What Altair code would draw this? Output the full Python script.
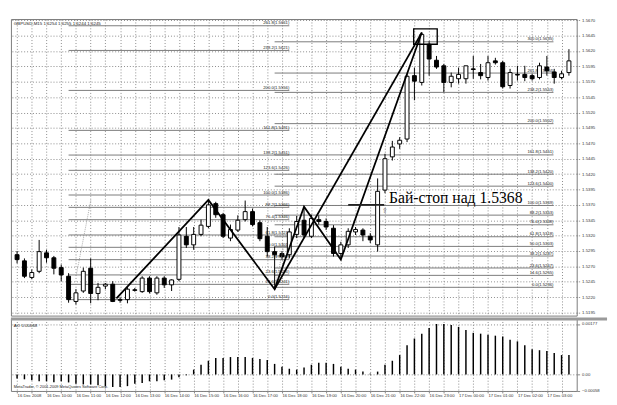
import altair as alt
import pandas as pd

# ---------------- data ----------------
opens = [1.5289, 1.5279, 1.5252, 1.5262, 1.5292, 1.5284, 1.5268, 1.5254, 1.5213, 1.5230,
         1.5267, 1.5226, 1.5238, 1.5241, 1.5216, 1.5216, 1.5232, 1.5229, 1.5251, 1.5227,
         1.5251, 1.5240, 1.5249, 1.5319, 1.5305, 1.5322, 1.5335, 1.5372, 1.5354, 1.5316,
         1.5329, 1.5346, 1.5359, 1.5341, 1.5319, 1.5294, 1.5291, 1.5289, 1.5322, 1.5345,
         1.5319, 1.5346, 1.5343, 1.5332, 1.5291, 1.5305, 1.5326, 1.5329, 1.5319, 1.5305,
         1.5394, 1.5448, 1.5469, 1.5477, 1.5580, 1.5569, 1.5631, 1.5605, 1.5596, 1.5569,
         1.5575, 1.5575, 1.5591, 1.5585, 1.5577, 1.5604, 1.5601, 1.5564, 1.5582, 1.5582,
         1.5580, 1.5577, 1.5594, 1.5586, 1.5577, 1.5585]
highs = [1.5295, 1.5283, 1.5265, 1.5313, 1.5297, 1.5287, 1.5273, 1.5259, 1.5233, 1.5268,
         1.5283, 1.5243, 1.5243, 1.5246, 1.5220, 1.5238, 1.5235, 1.5254, 1.5254, 1.5254,
         1.5254, 1.5249, 1.5334, 1.5334, 1.5334, 1.5346, 1.5378, 1.5375, 1.5357, 1.5338,
         1.5353, 1.5377, 1.5364, 1.5345, 1.5334, 1.5302, 1.5295, 1.5332, 1.5352, 1.5367,
         1.5354, 1.5353, 1.5348, 1.5337, 1.5310, 1.5332, 1.5334, 1.5332, 1.5324, 1.5413,
         1.5453, 1.5474, 1.5480, 1.5583, 1.5593, 1.5650, 1.5636, 1.5612, 1.5599, 1.5585,
         1.5593, 1.5596, 1.5612, 1.5599, 1.5612, 1.5609, 1.5604, 1.5591, 1.5596, 1.5596,
         1.5583, 1.5601, 1.5612, 1.5591, 1.5588, 1.5623]
lows = [1.5275, 1.5251, 1.5249, 1.5259, 1.5276, 1.5257, 1.5246, 1.5211, 1.5208, 1.5227,
        1.5210, 1.5215, 1.5233, 1.5212, 1.5211, 1.5210, 1.5229, 1.5227, 1.5226, 1.5224,
        1.5235, 1.5230, 1.5246, 1.5300, 1.5297, 1.5319, 1.5332, 1.5349, 1.5316, 1.5311,
        1.5326, 1.5343, 1.5335, 1.5311, 1.5286, 1.5233, 1.5281, 1.5283, 1.5316, 1.5316,
        1.5316, 1.5338, 1.5329, 1.5286, 1.5281, 1.5300, 1.5321, 1.5311, 1.5308, 1.5294,
        1.5389, 1.5442, 1.5461, 1.5472, 1.5540, 1.5564, 1.5580, 1.5591, 1.5553, 1.5561,
        1.5567, 1.5567, 1.5575, 1.5574, 1.5572, 1.5598, 1.5559, 1.5559, 1.5572, 1.5571,
        1.5572, 1.5574, 1.5580, 1.5567, 1.5574, 1.5580]
closes = [1.5281, 1.5254, 1.5260, 1.5294, 1.5284, 1.5267, 1.5256, 1.5216, 1.5227, 1.5262,
          1.5226, 1.5236, 1.5241, 1.5213, 1.5215, 1.5233, 1.5231, 1.5251, 1.5229, 1.5251,
          1.5240, 1.5248, 1.5321, 1.5305, 1.5322, 1.5337, 1.5370, 1.5354, 1.5319, 1.5330,
          1.5345, 1.5359, 1.5338, 1.5315, 1.5294, 1.5289, 1.5286, 1.5326, 1.5343, 1.5321,
          1.5348, 1.5343, 1.5334, 1.5291, 1.5305, 1.5327, 1.5330, 1.5321, 1.5313, 1.5392,
          1.5445, 1.5464, 1.5475, 1.5579, 1.5571, 1.5647, 1.5607, 1.5594, 1.5569, 1.5579,
          1.5582, 1.5596, 1.5590, 1.5580, 1.5601, 1.5601, 1.5562, 1.5585, 1.5581, 1.5577,
          1.5575, 1.5596, 1.5588, 1.5577, 1.5583, 1.5604]

ao_values = [-0.00014, -0.00017, -0.00020, -0.00024, -0.00024, -0.00027, -0.00024, -0.00028,
             -0.00033, -0.00035, -0.00035, -0.00038, -0.00041, -0.00044, -0.00044, -0.00041,
             -0.00033, -0.00030, -0.00024, -0.00024, -0.00020, -0.00018, -0.00010, -0.00003,
             0.00017, 0.00034, 0.00048, 0.00058, 0.00058, 0.00061, 0.00061, 0.00061,
             0.00058, 0.00054, 0.00051, 0.00037, 0.00027, 0.00020, 0.00017, 0.00024,
             0.00034, 0.00041, 0.00041, 0.00037, 0.00027, 0.00020, 0.00017, 0.00010,
             0.00003, 0.00010, 0.00034, 0.00048, 0.00068, 0.00102, 0.00126, 0.00143,
             0.00163, 0.00177, 0.00177, 0.00173, 0.00167, 0.00156, 0.00146, 0.00143,
             0.00139, 0.00136, 0.00133, 0.00122, 0.00116, 0.00102, 0.00088, 0.00085,
             0.00082, 0.00075, 0.00068, 0.00068]

time_labels = ["16 Dec 2008", "16 Dec 10:00", "16 Dec 11:00", "16 Dec 12:00", "16 Dec 13:00",
               "16 Dec 14:00", "16 Dec 15:00", "16 Dec 16:00", "16 Dec 17:00", "16 Dec 18:00",
               "16 Dec 19:00", "16 Dec 20:00", "16 Dec 21:00", "16 Dec 22:00", "16 Dec 23:00",
               "17 Dec 00:00", "17 Dec 01:00", "17 Dec 02:00", "17 Dec 03:00"]

price_ticks = [1.5195, 1.5220, 1.5245, 1.5270, 1.5295, 1.5320, 1.5345, 1.5370, 1.5395, 1.5420,
               1.5445, 1.5470, 1.5495, 1.5520, 1.5545, 1.5570, 1.5595, 1.5620, 1.5645, 1.5670]
ao_ticks = [-0.00058, 0.0, 0.00177]

fib_levels_a = [0.0, 14.6, 23.6, 38.2, 50.0, 61.8, 76.4, 88.2, 100.0, 123.6, 138.2, 161.8,
                200.0, 238.2, 261.8]
fib_a_range = [1.5216, 1.5386]
fib_a_span = [7.0, 37.0]
fib_levels_b = [0.0, 14.6, 23.6, 38.2, 50.0, 61.8, 76.4, 88.2, 100.0, 123.6, 138.2, 161.8,
                200.0, 238.2, 261.8, 300.0]
fib_b_range = [1.5236, 1.5369]
fib_b_span = [35.0, 72.9]

zigzag_i = [13.5, 26.0, 35.0, 39.0, 44.0, 55.0]
zigzag_p = [1.5218, 1.5378, 1.5233, 1.5367, 1.5281, 1.5650]
line2_i = [35.0, 55.0]
line2_p = [1.5233, 1.5650]
dotted1_i = [8.07, 10.03]
dotted1_p = [1.5257, 1.5378]
dotted2_i = [35.0, 36.3]
dotted2_p = [1.5235, 1.5305]
box_i = [53.9, 57.1]
box_p = [1.5631, 1.5656]
buystop_i = [45.0, 49.9]
buystop_p = 1.5370
note_text = "Бай-стоп над 1.5368"
note_i, note_p = 50.55, 1.5373
arrow_i, arrow_p = 50.0, 1.5360
header_text = "GBPUSD,M15  1.6254 1.6255 1.6244 1.6245"
ao_text = "AO 0.00068"
copyright_text = "MetaTrader, © 2001-2009 MetaQuotes Software Corp."

# ---------------- frames ----------------
n = len(opens)
candles = pd.DataFrame({"i": list(range(n)), "o": opens, "h": highs, "l": lows, "c": closes})
candles["top"] = candles[["o", "c"]].max(axis=1)
candles["bot"] = candles[["o", "c"]].min(axis=1)
candles["fill"] = ["white" if c >= o else "black" for o, c in zip(opens, closes)]

def fib_frame(levels, rng, span):
    lo, hi = rng
    rows = []
    for lv in levels:
        p = lo + lv / 100.0 * (hi - lo)
        rows.append({"i0": span[0], "i1": span[1], "p": p, "label": f"{lv:.1f}({p:.4f})"})
    return pd.DataFrame(rows)

fib = pd.concat([fib_frame(fib_levels_a, fib_a_range, fib_a_span),
                 fib_frame(fib_levels_b, fib_b_range, fib_b_span)], ignore_index=True)

lines = pd.DataFrame(
    [{"seg": "zz", "k": k, "i": a, "p": b} for k, (a, b) in enumerate(zip(zigzag_i, zigzag_p))]
    + [{"seg": "l2", "k": k, "i": a, "p": b} for k, (a, b) in enumerate(zip(line2_i, line2_p))]
)
dots = pd.DataFrame(
    [{"seg": "d1", "k": k, "i": a, "p": b} for k, (a, b) in enumerate(zip(dotted1_i, dotted1_p))]
    + [{"seg": "d2", "k": k, "i": a, "p": b} for k, (a, b) in enumerate(zip(dotted2_i, dotted2_p))]
)
box = pd.DataFrame({"i0": [box_i[0]], "i1": [box_i[1]], "p0": [box_p[0]], "p1": [box_p[1]]})
buystop = pd.DataFrame({"i0": [buystop_i[0]], "i1": [buystop_i[1]], "p": [buystop_p]})
note = pd.DataFrame({"i": [note_i], "p": [note_p], "t": [note_text]})
arrow = pd.DataFrame({"i": [arrow_i], "p": [arrow_p], "t": ["⇧"]})
ao = pd.DataFrame({"i": list(range(n)), "v": ao_values, "z": [0.0] * n})

# ---------------- scales / axes ----------------
W, H_MAIN, H_AO = 578, 303, 74
FONT = "Liberation Sans"
xscale = alt.Scale(domain=[-0.17, 75.39], nice=False, zero=False)
yscale = alt.Scale(domain=[1.5190, 1.5672], nice=False, zero=False)
aoscale = alt.Scale(domain=[-0.00058, 0.00196], nice=False, zero=False)

grid_vals = list(range(0, 76, 2))
xaxis_main = alt.Axis(values=grid_vals, labels=False, ticks=False, domain=False, grid=True,
                      gridDash=[1, 2], gridColor="#8a8a8a", gridWidth=1, title=None)
yaxis_main = alt.Axis(orient="right", values=price_ticks, format=".4f", grid=True,
                      gridDash=[1, 2], gridColor="#8a8a8a", labelFontSize=4.4, labelFont=FONT,
                      labelColor="#333", tickSize=3, tickColor="#888", tickDash=[1, 1],
                      domain=False, labelPadding=2, title=None)
labels_js = "[" + ",".join(f"'{s}'" for s in time_labels) + "]"
xaxis_ao = alt.Axis(values=grid_vals, grid=True, gridDash=[1, 2], gridColor="#8a8a8a",
                    labelExpr=f"datum.value % 4 == 0 ? {labels_js}[datum.value / 4] : ''",
                    labelAlign="left", labelFontSize=4.3, labelFont=FONT, labelColor="#333",
                    labelPadding=1, tickSize=2, tickColor="#888", domain=False, title=None,
                    labelOverlap=False, labelBound=False, labelFlush=False)
yaxis_ao = alt.Axis(orient="right", values=ao_ticks, grid=True, gridDash=[1, 2],
                    gridColor="#8a8a8a",
                    labelExpr="datum.value == 0 ? '0.00' : format(datum.value, '.5f')",
                    labelFontSize=4.3, labelFont=FONT, labelColor="#333", tickSize=3,
                    tickColor="#888", domain=False, labelPadding=2, title=None)

def X(f):
    return alt.X(f"{f}:Q", scale=xscale, axis=xaxis_main)

def Y(f):
    return alt.Y(f"{f}:Q", scale=yscale, axis=yaxis_main)

# ---------------- main panel ----------------
fib_rules = alt.Chart(fib).mark_rule(color="#7a7a7a", strokeWidth=1).encode(
    x=X("i0"), x2="i1", y=Y("p"))
fib_text = alt.Chart(fib).mark_text(align="right", baseline="bottom", dy=-0.5, fontSize=4.3,
                                    font=FONT, color="#222").encode(
    x=X("i1"), y=Y("p"), text="label:N")
wicks = alt.Chart(candles).mark_rule(color="black", strokeWidth=1).encode(
    x=X("i"), y=Y("l"), y2="h")
bodies = alt.Chart(candles).mark_bar(size=4, stroke="black", strokeWidth=1).encode(
    x=X("i"), y=Y("bot"), y2="top", fill=alt.Fill("fill:N", scale=None))
dotted = alt.Chart(dots).mark_line(color="#999", strokeWidth=0.8, strokeDash=[1, 1]).encode(
    x=X("i"), y=Y("p"), detail="seg:N", order="k:Q")
zz = alt.Chart(lines).mark_line(color="black", strokeWidth=1.8).encode(
    x=X("i"), y=Y("p"), detail="seg:N", order="k:Q")
boxm = alt.Chart(box).mark_rect(fillOpacity=0, stroke="black", strokeWidth=1.4).encode(
    x=X("i0"), x2="i1", y=Y("p0"), y2="p1")
bs = alt.Chart(buystop).mark_rule(color="#222", strokeWidth=1.6).encode(
    x=X("i0"), x2="i1", y=Y("p"))
note_m = alt.Chart(note).mark_text(align="left", baseline="alphabetic", font="Liberation Serif",
                                   fontSize=16, color="black").encode(
    x=X("i"), y=Y("p"), text="t:N")
arrow_m = alt.Chart(arrow).mark_text(fontSize=7, color="#555", font="DejaVu Sans").encode(
    x=X("i"), y=Y("p"), text="t:N")
header = alt.Chart(pd.DataFrame({"t": [header_text]})).mark_text(
    align="left", baseline="top", fontSize=4.5, font=FONT, color="#222").encode(
    x=alt.value(3), y=alt.value(2), text="t:N")

main = alt.layer(fib_rules, fib_text, wicks, bodies, dotted, zz, boxm, bs, note_m, arrow_m,
                 header).properties(width=W, height=H_MAIN)

# ---------------- AO panel ----------------
ao_bars = alt.Chart(ao).mark_bar(size=1.5, color="black").encode(
    x=alt.X("i:Q", scale=xscale, axis=xaxis_ao),
    y=alt.Y("v:Q", scale=aoscale, axis=yaxis_ao), y2="z")
sep = alt.Chart(pd.DataFrame({"t": [0]})).mark_rule(color="#9a9a9a", strokeWidth=3).encode(
    x=alt.value(0), x2=alt.value(W + 31), y=alt.value(0.5))
ao_lbl = alt.Chart(pd.DataFrame({"t": [ao_text]})).mark_text(
    align="left", baseline="top", fontSize=4.5, font=FONT, color="#222").encode(
    x=alt.value(3), y=alt.value(5), text="t:N")
copy_lbl = alt.Chart(pd.DataFrame({"t": [copyright_text]})).mark_text(
    align="left", baseline="bottom", fontSize=4.0, font=FONT, color="#222").encode(
    x=alt.value(3), y=alt.value(H_AO - 2), text="t:N")

ao_panel = alt.layer(ao_bars, ao_lbl, copy_lbl, sep).properties(width=W, height=H_AO)

chart = alt.vconcat(main, ao_panel, spacing=0).properties(
    padding={"left": 1, "top": 4, "right": 0, "bottom": 0},
    background="white",
).configure_view(stroke="#7a7a7a", strokeWidth=1)

chart.save("out.html", embed_options={"renderer": "svg", "actions": False})
